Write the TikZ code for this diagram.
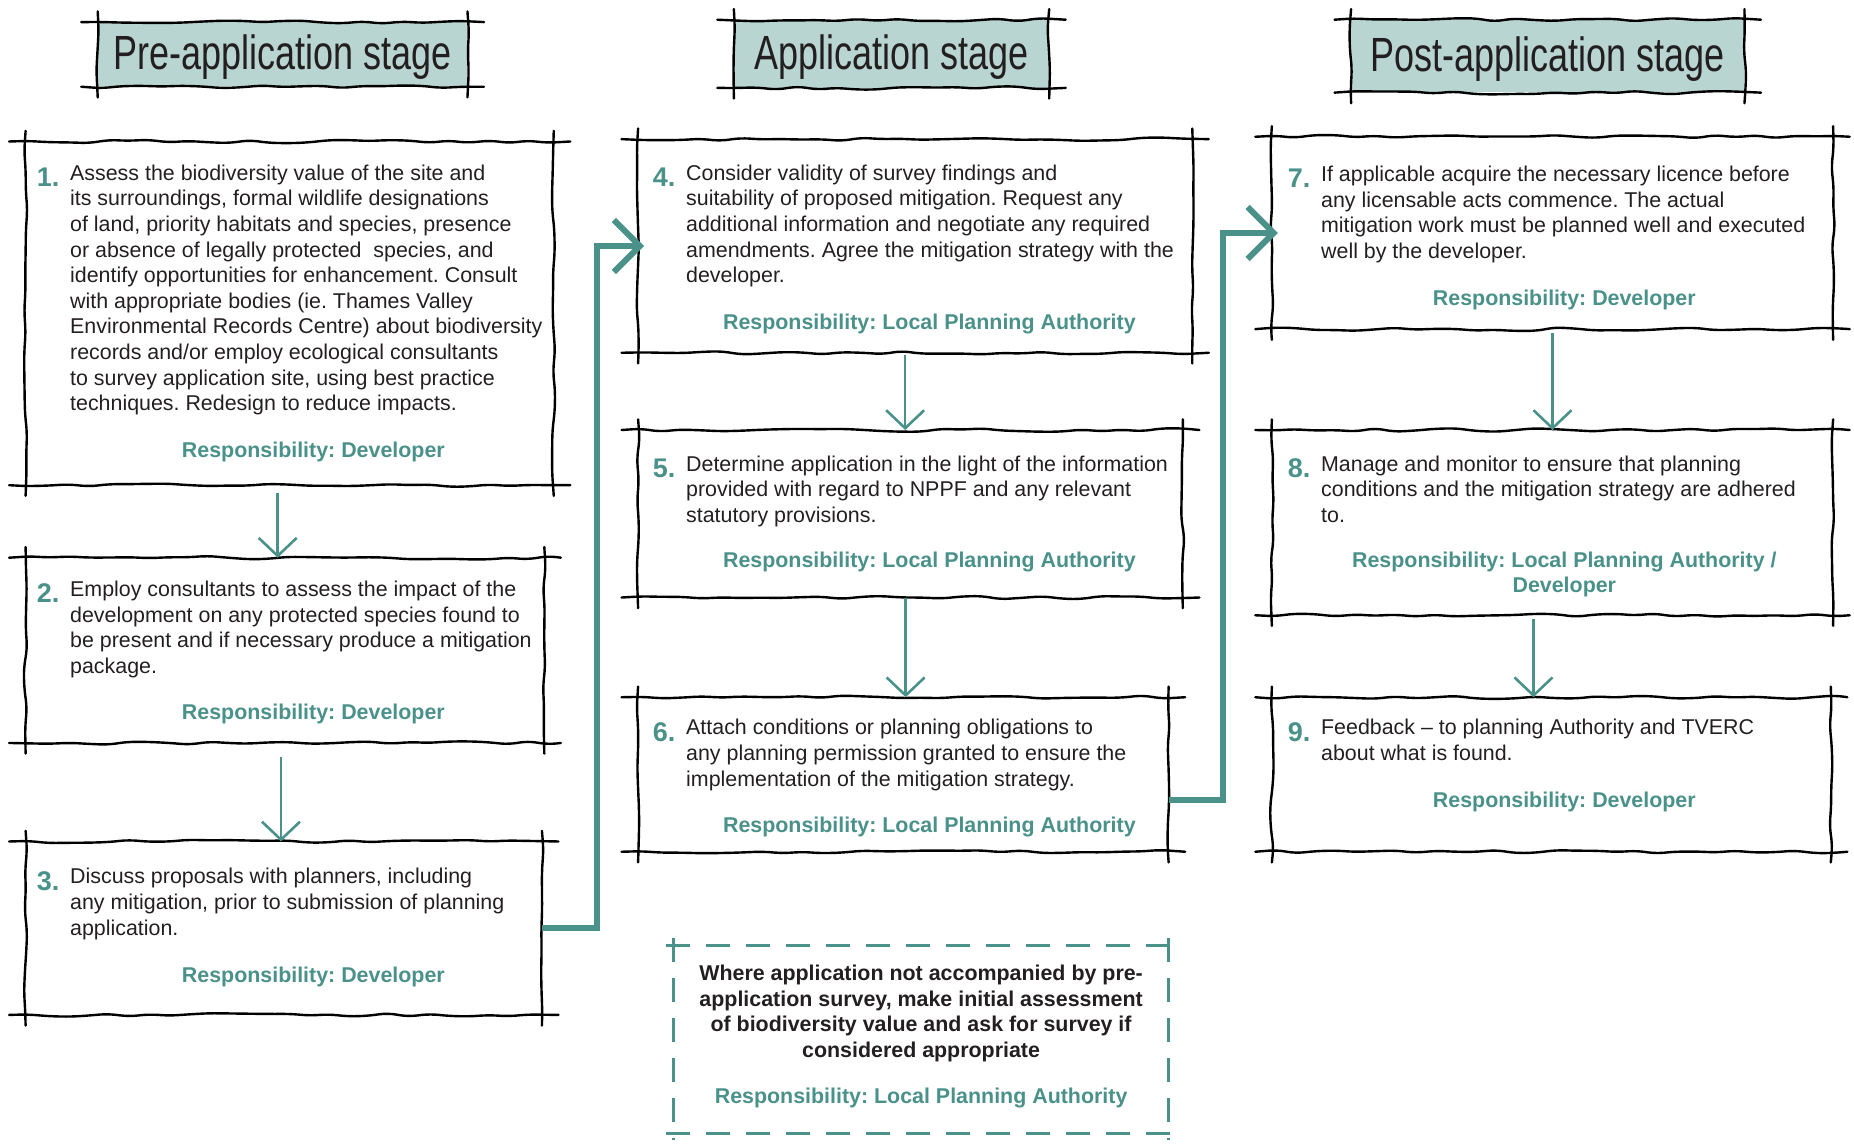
\documentclass[tikz,border=0pt]{standalone}
\usepackage{fontspec}
\setmainfont{Liberation Sans}
\newfontfamily\handfont[FakeStretch=0.75]{Liberation Sans}
\usepackage{xcolor}
\usepackage{tikz}
\usetikzlibrary{arrows.meta,positioning,calc,fit,decorations.pathmorphing}

\definecolor{tealline}{RGB}{74,145,138}
\definecolor{headfill}{RGB}{185,213,210}
\definecolor{bodytext}{RGB}{35,31,32}

\frenchspacing
\begin{document}
\begin{tikzpicture}[x=0.5912pt, y=-0.5912pt,
  sketch/.style={draw=black, line width=1.2pt, line cap=round, decorate,
    decoration={random steps, segment length=10pt, amplitude=0.9pt}, rounded corners=4pt},
  frame/.style={inner sep=0pt},
  headbox/.style={inner sep=0pt, fill=headfill},
  headtext/.style={font=\handfont\fontsize{24}{26}\selectfont, text=bodytext, yshift=-1.5pt},
  body/.style={font=\fontsize{10.7}{12.8}\selectfont, text=bodytext, align=left, inner sep=0pt, anchor=north west},
  num/.style={font=\fontsize{13.5}{15}\selectfont\bfseries, text=tealline, inner sep=0pt, anchor=north east, xshift=-5pt, yshift=-1.5pt},
  resp/.style={font=\fontsize{10.7}{12.8}\selectfont\bfseries, text=tealline, align=center, inner sep=0pt},
  down/.style={draw=tealline, line width=1.3pt, -{Straight Barb[length=9pt, width=19pt, line width=1.3pt]}},
  jump/.style={draw=tealline, line width=3pt, -{Straight Barb[length=13pt, width=26pt, line width=3pt]}},
  dashframe/.style={draw=tealline, line width=1.6pt, dash pattern=on 12pt off 8pt}
]
\pgfmathsetseed{11}
\useasboundingbox (0,0) rectangle (1568,967);

% Stage headings
\node[headbox, fit={(83,19) (395,73)}] (h1) {};
\node[headtext] (h1t) at (h1) {Pre-application stage};
\node[headbox, fit={(621,17) (887,74)}] (h2) {};
\node[headtext] (h2t) at (h2) {Application stage};
\node[headbox, fit={(1143,17) (1475,78)}] (h3) {};
\node[headtext] (h3t) at (h3) {Post-application stage};

% Step frames
\node[frame, fit={(22,120) (468,410)}] (b1) {};
\node[frame, fit={(22,472) (460,628)}] (b2) {};
\node[frame, fit={(22,712) (458,858)}] (b3) {};
\node[frame, fit={(540,118) (1008,298)}] (b4) {};
\node[frame, fit={(540,364) (1000,505)}] (b5) {};
\node[frame, fit={(540,590) (988,720)}] (b6) {};
\node[frame, fit={(1076,116) (1550,278)}] (b7) {};
\node[frame, fit={(1076,364) (1550,520)}] (b8) {};
\node[frame, fit={(1076,590) (1548,720)}] (b9) {};

% Hand drawn edges, crossing at the corners
\foreach \i in {1,...,3} {
  \draw[sketch] ($(h\i.north west)+(-14,0)$) -- ($(h\i.north east)+(14,0)$);
  \draw[sketch] ($(h\i.south west)+(-14,0)$) -- ($(h\i.south east)+(14,0)$);
  \draw[sketch] ($(h\i.north west)+(0,-9)$) -- ($(h\i.south west)+(0,9)$);
  \draw[sketch] ($(h\i.north east)+(0,-9)$) -- ($(h\i.south east)+(0,9)$);
}
\foreach \i in {1,...,9} {
  \draw[sketch] ($(b\i.north west)+(-14,0)$) -- ($(b\i.north east)+(14,0)$);
  \draw[sketch] ($(b\i.south west)+(-14,0)$) -- ($(b\i.south east)+(14,0)$);
  \draw[sketch] ($(b\i.north west)+(0,-9)$) -- ($(b\i.south west)+(0,9)$);
  \draw[sketch] ($(b\i.north east)+(0,-9)$) -- ($(b\i.south east)+(0,9)$);
}

% Pre-application steps
\node[body] (t1) at (59,139) {Assess the biodiversity value of the site and\\
  its surroundings, formal wildlife designations\\
  of land, priority habitats and species, presence\\
  or absence of legally protected\ \ species, and\\
  identify opportunities for enhancement. Consult\\
  with appropriate bodies (ie. Thames Valley\\
  Environmental Records Centre) about biodiversity\\
  records and/or employ ecological consultants\\
  to survey application site, using best practice\\
  techniques. Redesign to reduce impacts.};
\node[num] (n1) at (t1.north west) {1.};
\node[resp] (r1) at (265,382) {Responsibility: Developer};

\node[body] (t2) at (59,491) {Employ consultants to assess the impact of the\\
  development on any protected species found to\\
  be present and if necessary produce a mitigation\\
  package.};
\node[num] (n2) at (t2.north west) {2.};
\node[resp] (r2) at (265,604) {Responsibility: Developer};

\node[body] (t3) at (59,734) {Discuss proposals with planners, including\\
  any mitigation, prior to submission of planning\\
  application.};
\node[num] (n3) at (t3.north west) {3.};
\node[resp] (r3) at (265,826) {Responsibility: Developer};

% Application steps
\node[body] (t4) at (580,139) {Consider validity of survey findings and\\
  suitability of proposed mitigation. Request any\\
  additional information and negotiate any required\\
  amendments. Agree the mitigation strategy with the\\
  developer.};
\node[num] (n4) at (t4.north west) {4.};
\node[resp] (r4) at (786,274) {Responsibility: Local Planning Authority};

\node[body] (t5) at (580,385) {Determine application in the light of the information\\
  provided with regard to NPPF and any relevant\\
  statutory provisions.};
\node[num] (n5) at (t5.north west) {5.};
\node[resp] (r5) at (786,475) {Responsibility: Local Planning Authority};

\node[body] (t6) at (580,608) {Attach conditions or planning obligations to\\
  any planning permission granted to ensure the\\
  implementation of the mitigation strategy.};
\node[num] (n6) at (t6.north west) {6.};
\node[resp] (r6) at (786,699) {Responsibility: Local Planning Authority};

% Post-application steps
\node[body] (t7) at (1117,140) {If applicable acquire the necessary licence before\\
  any licensable acts commence. The actual\\
  mitigation work must be planned well and executed\\
  well by the developer.};
\node[num] (n7) at (t7.north west) {7.};
\node[resp] (r7) at (1323,254) {Responsibility: Developer};

\node[body] (t8) at (1117,385) {Manage and monitor to ensure that planning\\
  conditions and the mitigation strategy are adhered\\
  to.};
\node[num] (n8) at (t8.north west) {8.};
\node[resp] (r8) at (1323,486) {Responsibility: Local Planning Authority /\\Developer};

\node[body] (t9) at (1117,608) {Feedback – to planning Authority and TVERC\\
  about what is found.};
\node[num] (n9) at (t9.north west) {9.};
\node[resp] (r9) at (1323,678) {Responsibility: Developer};

% Note without pre-application survey
\node[frame, fit={(570,800) (988,958)}] (note) {};
\draw[dashframe] ($(note.north west)+(-6,0)$) -- ($(note.north east)+(6,0)$);
\draw[dashframe] ($(note.south west)+(-6,0)$) -- ($(note.south east)+(6,0)$);
\draw[dashframe] ($(note.north west)+(0,-6)$) -- ($(note.south west)+(0,6)$);
\draw[dashframe] ($(note.north east)+(0,-6)$) -- ($(note.south east)+(0,6)$);
\node[font=\fontsize{10.7}{12.8}\selectfont\bfseries, text=bodytext, align=center, inner sep=0pt, anchor=north] (notetext) at (779,816)
  {Where application not accompanied by pre-\\application survey, make initial assessment\\of biodiversity value and ask for survey if\\considered appropriate};
\node[resp] (noteresp) at (779,929) {Responsibility: Local Planning Authority};

% Flow within each stage
\draw[down, shorten <=4pt] ([xshift=-6pt]b1.south) -- ([xshift=-6pt]b1.south |- b2.north);
\draw[down, shorten <=7pt] ([xshift=-2pt]b2.south) -- ([xshift=-2pt]b2.south |- b3.north);
\draw[down, shorten <=1pt] ([xshift=-5pt]b4.south) -- ([xshift=-5pt]b4.south |- b5.north);
\draw[down] ([xshift=-2.4pt]b5.south) -- ([xshift=-2.4pt]b5.south |- b6.north);
\draw[down, shorten <=2pt] (b7.south) -- (b7.south |- b8.north);
\draw[down, shorten <=2pt] ([xshift=-9.5pt]b8.south) -- ([xshift=-9.5pt]b8.south |- b9.north);

% Flow between stages
\draw[jump, shorten >=-3pt] (b3.east) -| ($(b4.west)+(-35,0)$) -- (b4.west);
\draw[jump, shorten >=-3pt] ([yshift=-13pt]b6.east) -| ($(b7.west)+(-41,0)$) -- (b7.west);

\end{tikzpicture}
\end{document}
